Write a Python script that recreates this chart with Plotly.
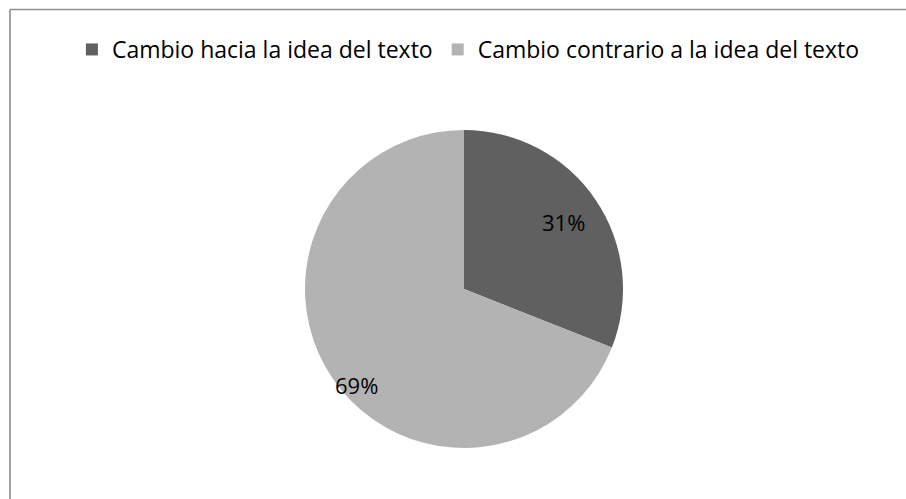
import math
import plotly.graph_objects as go

# Share of answers by direction of change
labels = ["Cambio hacia la idea del texto", "Cambio contrario a la idea del texto"]
values = [31, 69]
colors = ["#606060", "#b3b3b3"]

# Where each percentage label sits: fraction of the radius, and a turn (degrees)
# away from the middle of its slice
label_radius = [0.755, 0.905]
label_turn = [0.0, -7.5]

W, H = 906, 499
cx, cy, r = 464, 289, 159  # pie centre and radius in pixels
FONT = "Open Sans"

fig = go.Figure(
    go.Pie(
        labels=labels,
        values=values,
        marker=dict(colors=colors, line=dict(width=0)),
        sort=False,
        direction="clockwise",
        rotation=0,
        textinfo="none",
        domain=dict(x=[(cx - r) / W, (cx + r) / W], y=[(H - cy - r) / H, (H - cy + r) / H]),
        hoverinfo="label+percent",
    )
)

# Percentage labels placed along each slice's middle angle (clockwise from 12 o'clock)
total = sum(values)
start = 0.0
annotations = []
for v, fr, turn in zip(values, label_radius, label_turn):
    share = v / total
    mid = (start + share / 2) * 360 + turn
    start += share
    a = math.radians(mid)
    px = cx + fr * r * math.sin(a)
    py = cy - fr * r * math.cos(a)
    annotations.append(
        dict(
            x=px / W, y=1 - py / H, xref="paper", yref="paper",
            text=f"{round(share * 100)}%", showarrow=False,
            xanchor="center", yanchor="middle",
            font=dict(family=FONT, size=22, color="#000000"),
        )
    )

fig.update_layout(
    width=W,
    height=H,
    margin=dict(l=0, r=0, t=0, b=0),
    paper_bgcolor="#ffffff",
    plot_bgcolor="#ffffff",
    showlegend=True,
    legend=dict(
        orientation="h",
        x=0.517,
        xanchor="center",
        y=1 - 28 / H,
        yanchor="top",
        font=dict(family=FONT, size=23, color="#000000"),
        traceorder="normal",
    ),
    annotations=annotations,
    shapes=[
        dict(type="line", xref="paper", yref="paper", x0=10 / W, x1=1.01, y0=1 - 9.5 / H, y1=1 - 9.5 / H,
             line=dict(color="#8f8f8f", width=1.6)),
        dict(type="line", xref="paper", yref="paper", x0=10 / W, x1=10 / W, y0=-0.01, y1=1 - 9.5 / H,
             line=dict(color="#8f8f8f", width=1.6)),
    ],
)

fig.write_html("out.html")
